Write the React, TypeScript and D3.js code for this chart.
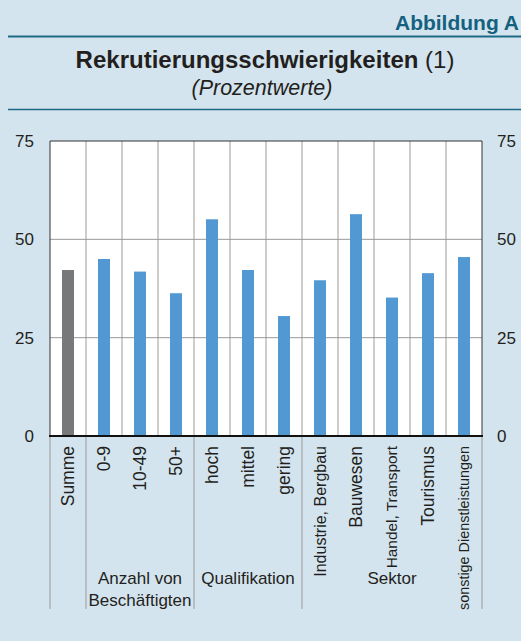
import React from "react";
import * as d3 from "d3";

const categories = [
  "Summe", "0-9", "10-49", "50+", "hoch", "mittel", "gering",
  "Industrie, Bergbau", "Bauwesen", "Handel, Transport", "Tourismus", "sonstige Dienstleistungen",
];
const values = [42.2, 45.0, 41.8, 36.3, 55.1, 42.2, 30.5, 39.6, 56.4, 35.2, 41.4, 45.5];
const labelSizes = [17.5, 17.5, 17.5, 17.5, 17.5, 17.5, 17.5, 16, 17.5, 15.4, 17.5, 14.4];
const groups = [
  { name: ["Anzahl von", "Beschäftigten"], from: 1, to: 3 },
  { name: ["Qualifikation"], from: 4, to: 6 },
  { name: ["Sektor"], from: 7, to: 11 },
];
const yTicks = [0, 25, 50, 75];

const W = 521, H = 641;
const left = 50, right = 482, top = 141, bottom = 436;
const font = "'Liberation Sans', Arial, Helvetica, sans-serif";

export default function App() {
  const x = d3.scaleBand<number>().domain(d3.range(categories.length)).range([left, right]).paddingInner(0).paddingOuter(0);
  const y = d3.scaleLinear().domain([0, 75]).range([bottom, top]);
  const bw = x.bandwidth() / 3;
  // group boundaries below the axis
  const seps = [left, x(1)!, ...groups.map(g => x(g.to)! + x.bandwidth())];

  return (
    <svg width={W} height={H} style={{ position: "absolute", left: 0, top: 0, display: "block" }} fontFamily={font}>
      <rect width={W} height={H} fill="#d4e4ee" />
      <text x={519} y={30} textAnchor="end" fontSize={21} fontWeight="bold" fill="#14617f">Abbildung A</text>
      <line x1={8} x2={W} y1={36.5} y2={36.5} stroke="#1d6a86" strokeWidth={2} />
      <text x={265} y={68} textAnchor="middle" fontSize={24} fill="#231f20">
        <tspan fontWeight="bold">Rekrutierungsschwierigkeiten</tspan> (1)
      </text>
      <text x={262} y={95} textAnchor="middle" fontSize={21.5} fontStyle="italic" fill="#231f20">(Prozentwerte)</text>
      <line x1={8} x2={W} y1={109.5} y2={109.5} stroke="#1d6a86" strokeWidth={1.5} />

      <rect x={left} y={top} width={right - left} height={bottom - top} fill="#fff" />
      {yTicks.slice(1, 3).map(t => (
        <line key={t} x1={left} x2={right} y1={y(t)} y2={y(t)} stroke="#999" strokeWidth={1} />
      ))}
      {d3.range(1, categories.length).map(i => (
        <line key={i} x1={x(i)!} x2={x(i)!} y1={top} y2={bottom} stroke="#999" strokeWidth={1} />
      ))}
      {values.map((v, i) => (
        <rect key={i} x={x(i)! + bw} y={y(v)} width={bw} height={bottom - y(v)}
          fill={i === 0 ? "#76787a" : "#5299d3"} />
      ))}
      <path d={`M${left},${bottom}V${top}H${right}V${bottom}`} fill="none" stroke="#333" strokeWidth={1} />
      <line x1={left - 1} x2={right + 1} y1={bottom} y2={bottom} stroke="#111" strokeWidth={2} />

      {yTicks.map(t => (
        <g key={t} fontSize={17} fill="#231f20">
          <text x={34} y={y(t)} dy="0.35em" textAnchor="end">{t}</text>
          <text x={497} y={y(t)} dy="0.35em" textAnchor="start">{t}</text>
        </g>
      ))}

      {seps.map((s, i) => (
        <line key={i} x1={s} x2={s} y1={bottom + 1} y2={609} stroke="#999" strokeWidth={1} />
      ))}
      {categories.map((c, i) => (
        <text key={c} transform={`translate(${x(i)! + x.bandwidth() / 2},446) rotate(-90)`}
          dy="0.35em" textAnchor="end" fontSize={labelSizes[i]} fill="#231f20">{c}</text>
      ))}
      {groups.map(g => {
        const cx = (x(g.from)! + x(g.to)! + x.bandwidth()) / 2;
        return (
          <text key={g.name[0]} x={cx} y={584} textAnchor="middle" fontSize={17} fill="#231f20">
            {g.name.map((n, k) => <tspan key={n} x={cx} dy={k === 0 ? 0 : 22}>{n}</tspan>)}
          </text>
        );
      })}
    </svg>
  );
}
